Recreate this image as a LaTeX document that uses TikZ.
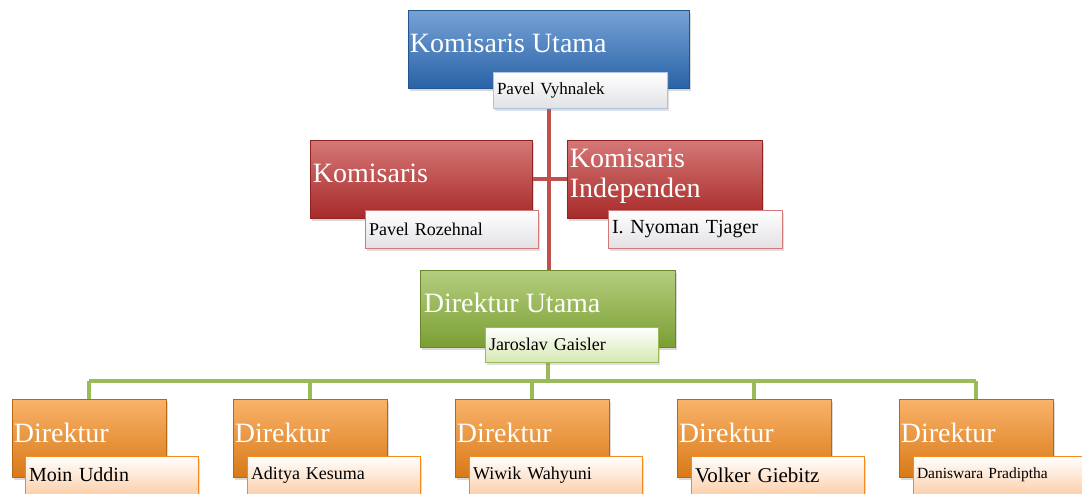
\documentclass[tikz,border=0pt]{standalone}
\usepackage{fontspec}
\setmainfont{Liberation Serif}
\usetikzlibrary{shadows,backgrounds}
\definecolor{utamablue}{RGB}{46,112,190}
\definecolor{komred}{RGB}{190,48,46}
\definecolor{dirgreen}{RGB}{140,180,58}
\definecolor{dirorange}{RGB}{246,138,26}
\definecolor{redline}{RGB}{192,80,77}
\definecolor{greenline}{RGB}{155,187,89}
\definecolor{namegray}{RGB}{226,226,230}
\definecolor{nameblue}{RGB}{170,196,228}
\definecolor{namered}{RGB}{210,120,118}
\definecolor{namegreen}{RGB}{214,232,178}
\definecolor{namepeach}{RGB}{252,208,172}

\begin{document}
\begin{tikzpicture}[x=1pt,y=-1pt,
  headbox/.style={rectangle,draw=#1!75!black,line width=0.6pt,top color=#1!65!white,middle color=#1,bottom color=#1!88!black,
    inner sep=0pt,drop shadow={opacity=0.3,shadow xshift=2pt,shadow yshift=-3pt}},
  namebox/.style 2 args={rectangle,draw=#1,line width=1pt,top color=white,bottom color=#2,
    align=left,inner xsep=4pt,inner ysep=0pt,drop shadow={opacity=0.25,shadow xshift=2pt,shadow yshift=-3pt}},
  title/.style={text=white,font=\fontsize{28}{30}\selectfont,inner sep=0pt,align=left},
  redconn/.style={draw=redline,line width=4pt},
  greenconn/.style={draw=greenline,line width=4pt}]
  \useasboundingbox (0,0) rectangle (1082,493);
  % komisaris utama
  \node[headbox=utamablue,minimum width=281pt,minimum height=78pt] (ku) at (548.5,49) {};
  \node[title,anchor=base west] (kut) at ([shift={(2,43)}]ku.north west) {Komisaris Utama};
  \node[namebox={nameblue}{namegray},text width=166pt,minimum height=36pt,font=\fontsize{17}{18}\selectfont] (kun) at (580,90) {Pavel Vyhnalek};
  % komisaris
  \node[headbox=komred,minimum width=222pt,minimum height=78pt] (k) at (421,179) {};
  \node[title,anchor=base west] (kt) at ([shift={(3,43)}]k.north west) {Komisaris};
  \node[namebox={namered}{namegray},text width=165pt,minimum height=38pt,font=\fontsize{18}{19}\selectfont] (kn) at (451.5,229) {Pavel Rozehnal};
  \node[headbox=komred,minimum width=195pt,minimum height=78pt] (ki) at (664.5,179) {};
  \node[title,anchor=base west] (kit) at ([shift={(3,58)}]ki.north west) {Komisaris\\Independen};
  \node[namebox={namered}{namegray},text width=166pt,minimum height=38pt,font=\fontsize{20}{21}\selectfont] (kin) at (695,229) {I. Nyoman Tjager};
  % direktur utama
  \node[headbox=dirgreen,minimum width=255pt,minimum height=77pt] (du) at (547.5,308.5) {};
  \node[title,anchor=base west] (dut) at ([shift={(4,43)}]du.north west) {Direktur Utama};
  \node[namebox={greenline}{namegreen},text width=165pt,minimum height=35pt,font=\fontsize{18}{19}\selectfont] (dun) at (571.5,344.5) {Jaroslav Gaisler};
  % direktur
  \node[headbox=dirorange,minimum width=154pt,minimum height=78pt] (d1) at (89,438) {};
  \node[headbox=dirorange,minimum width=154pt,minimum height=78pt] (d2) at (310,438) {};
  \node[headbox=dirorange,minimum width=154pt,minimum height=78pt] (d3) at (532,438) {};
  \node[headbox=dirorange,minimum width=154pt,minimum height=78pt] (d4) at (754,438) {};
  \node[headbox=dirorange,minimum width=154pt,minimum height=78pt] (d5) at (976,438) {};
  \node[title,anchor=base west] (d1t) at ([shift={(2,44)}]d1.north west) {Direktur};
  \node[title,anchor=base west] (d2t) at ([shift={(2,44)}]d2.north west) {Direktur};
  \node[title,anchor=base west] (d3t) at ([shift={(2,44)}]d3.north west) {Direktur};
  \node[title,anchor=base west] (d4t) at ([shift={(2,44)}]d4.north west) {Direktur};
  \node[title,anchor=base west] (d5t) at ([shift={(2,44)}]d5.north west) {Direktur};
  \node[namebox={dirorange}{namepeach},text width=165pt,minimum height=38pt,font=\fontsize{20}{21}\selectfont] (d1n) at (111.5,475) {Moin Uddin};
  \node[namebox={dirorange}{namepeach},text width=165pt,minimum height=38pt,font=\fontsize{18}{19}\selectfont] (d2n) at (333.5,475) {Aditya Kesuma};
  \node[namebox={dirorange}{namepeach},text width=165pt,minimum height=38pt,font=\fontsize{18}{19}\selectfont] (d3n) at (555.5,475) {Wiwik Wahyuni};
  \node[namebox={dirorange}{namepeach},text width=165pt,minimum height=38pt,font=\fontsize{21}{22}\selectfont] (d4n) at (777.5,475) {Volker Giebitz};
  \node[namebox={dirorange}{namepeach},text width=165pt,minimum height=38pt,font=\fontsize{15.5}{17}\selectfont] (d5n) at (999.5,475) {Daniswara Pradiptha};
  \coordinate (bus) at (547.5,381);
  \begin{pgfonlayer}{background}
    \draw[redconn] (ku.south) -- (ku.south |- du.north);
    \draw[redconn] (k.east) -- (ki.west);
    \draw[greenconn] (du.south) -- (bus);
    \draw[greenconn] (d1.north |- bus) -- (d5.north |- bus);
    \draw[greenconn] (d1.north |- bus) -- (d1.north);
    \draw[greenconn] (d2.north |- bus) -- (d2.north);
    \draw[greenconn] (d3.north |- bus) -- (d3.north);
    \draw[greenconn] (d4.north |- bus) -- (d4.north);
    \draw[greenconn] (d5.north |- bus) -- (d5.north);
  \end{pgfonlayer}
\end{tikzpicture}
\end{document}
